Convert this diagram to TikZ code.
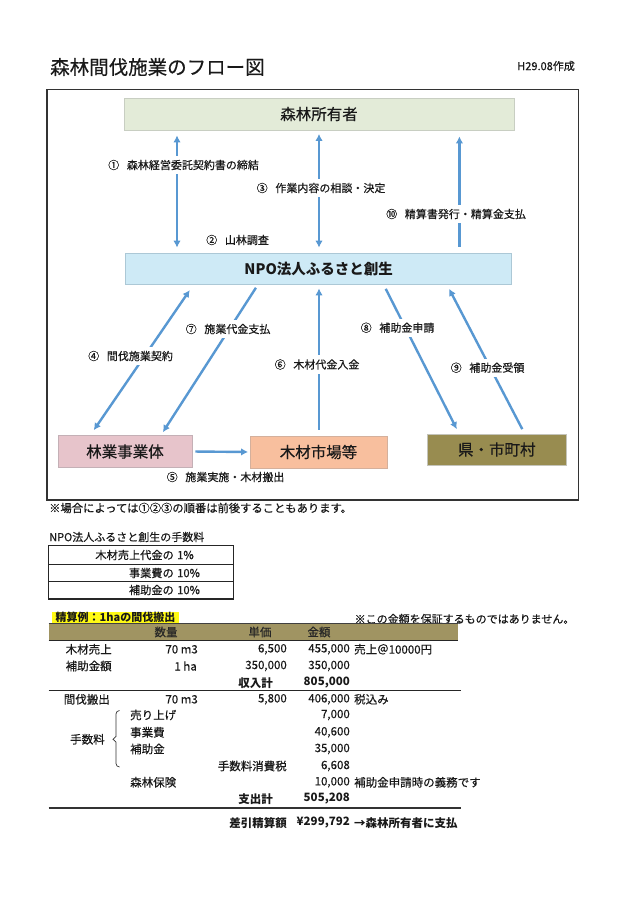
\documentclass[tikz,border=0pt]{standalone}
\usepackage{fontspec}
\setmainfont{Noto Sans CJK JP}[UprightFeatures={FakeBold=0.4}]
\usetikzlibrary{arrows.meta}
\definecolor{arrowblue}{RGB}{88,152,210}
\definecolor{txt}{RGB}{25,25,25}
\definecolor{ownerfill}{RGB}{227,235,216}
\definecolor{ownerline}{RGB}{200,206,194}
\definecolor{npofill}{RGB}{206,234,246}
\definecolor{npoline}{RGB}{172,200,214}
\definecolor{ringyofill}{RGB}{231,196,203}
\definecolor{ringyoline}{RGB}{196,176,182}
\definecolor{mokuzaifill}{RGB}{248,191,158}
\definecolor{mokuzailine}{RGB}{212,176,156}
\definecolor{kenfill}{RGB}{152,140,80}
\definecolor{kenline}{RGB}{196,196,186}
\definecolor{headolive}{RGB}{160,148,98}
\definecolor{hlyellow}{RGB}{255,250,20}
\begin{document}
\begin{tikzpicture}[x=1pt,y=-1pt,
  >={Latex[length=7pt,width=7.5pt]},
  lbl/.style={anchor=west,inner sep=0pt,font=\fontsize{11}{13}\selectfont,text=txt},
  gaplbl/.style={lbl,fill=white,inner ysep=4pt,inner xsep=1pt},
  flowbox/.style={draw,line width=0.8pt,inner sep=0pt,font=\fontsize{15.5}{18}\selectfont,text=txt},
  arr/.style={draw=arrowblue,line width=2.4pt},
  tt/.style={inner sep=0pt,font=\fontsize{11.5}{13}\selectfont,text=txt},
  tr/.style={tt,anchor=east},
  tl/.style={tt,anchor=west},
  fee/.style={inner sep=0pt,font=\fontsize{11.2}{13}\selectfont,text=txt}
]
\fill[white] (0,0) rectangle (640,905);
\useasboundingbox (0,0) rectangle (640,905);

% title
\node[anchor=west,inner sep=0pt,font=\fontsize{19.5}{22}\selectfont,text=txt] (title) at (50,67) {森林間伐施業のフロー図};
\node[anchor=east,inner sep=0pt,font=\fontsize{11}{13}\selectfont,text=txt] (date) at (575,66) {H29.08作成};

% frame
\draw[line width=1.3pt,draw=black!80] (47,89.5) rectangle (578.5,500);

% boxes
\node[flowbox,draw=ownerline,fill=ownerfill,minimum width=390pt,minimum height=32pt] (owner) at (319,114) {森林所有者};
\node[flowbox,draw=npoline,fill=npofill,minimum width=386pt,minimum height=31pt,font=\fontsize{14.5}{17}\selectfont\bfseries] (npo) at (318.7,268.5) {NPO法人ふるさと創生};
\node[flowbox,draw=ringyoline,fill=ringyofill,minimum width=134pt,minimum height=32pt] (ringyo) at (125,451.5) {林業事業体};
\node[flowbox,draw=mokuzailine,fill=mokuzaifill,minimum width=137pt,minimum height=32pt] (mokuzai) at (318.5,452) {木材市場等};
\node[flowbox,draw=kenline,fill=kenfill,minimum width=138.5pt,minimum height=31pt] (ken) at (496.8,449.5) {県・市町村};

% x positions of connectors
\coordinate (xa) at (177,0);
\coordinate (xb) at (319,0);
\coordinate (xc) at (459.4,0);
\coordinate (x4t) at (193.7,0);
\coordinate (x4b) at (90.4,0);
\coordinate (x7t) at (258.1,0);
\coordinate (x7b) at (161,0);
\coordinate (x8t) at (383.5,0);
\coordinate (x8b) at (459,0);
\coordinate (x9b) at (524.6,0);
\coordinate (x9t) at (446.8,0);

% arrows
\draw[arr,<->,shorten <=5pt,shorten >=5pt] (owner.south -| xa) -- (npo.north -| xa);
\draw[arr,<->,shorten <=3.5pt,shorten >=5pt] (owner.south -| xb) -- (npo.north -| xb);
\draw[arr,<-,shorten <=6pt,shorten >=6pt] (owner.south -| xc) -- (npo.north -| xc);
\draw[arr,<->,shorten <=7pt,shorten >=6pt] (npo.south -| x4t) -- (ringyo.north -| x4b);
\draw[arr,->,shorten <=4pt,shorten >=3.5pt] (npo.south -| x7t) -- (ringyo.north -| x7b);
\draw[arr,<-,shorten <=4pt,shorten >=6pt] (npo.south -| xb) -- (mokuzai.north -| xb);
\draw[arr,->,shorten <=5pt,shorten >=5pt] (npo.south -| x8t) -- (ken.north -| x8b);
\draw[arr,<-,shorten <=5pt,shorten >=5pt] (npo.south -| x9t) -- (ken.north -| x9b);
\draw[arr,->,shorten <=3pt,shorten >=1.5pt] (ringyo.east) -- (mokuzai.west);

% connector labels
\node[gaplbl] (l1) at (107,165) {①\hspace{0.7em}森林経営委託契約書の締結};
\node[lbl] (l2) at (206,240) {②\hspace{0.7em}山林調査};
\node[gaplbl] (l3) at (255.5,188) {③\hspace{0.7em}作業内容の相談・決定};
\node[gaplbl] (l10) at (385,214) {⑩\hspace{0.7em}精算書発行・精算金支払};
\node[gaplbl] (l4) at (87,356) {④\hspace{0.7em}間伐施業契約};
\node[gaplbl] (l7) at (184.5,329) {⑦\hspace{0.7em}施業代金支払};
\node[gaplbl] (l6) at (273.5,364.5) {⑥\hspace{0.7em}木材代金入金};
\node[gaplbl] (l8) at (359.5,327.7) {⑧\hspace{0.7em}補助金申請};
\node[gaplbl] (l9) at (449.5,367.7) {⑨\hspace{0.7em}補助金受領};
\node[lbl] (l5) at (166.5,477) {⑤\hspace{0.7em}施業実施・木材搬出};

% note
\node[anchor=west,inner sep=0pt,font=\fontsize{11.3}{13}\selectfont,text=txt] (note) at (49,508) {※場合によっては①②③の順番は前後することもあります。};

% fee table
\node[anchor=west,inner sep=0pt,font=\fontsize{11}{13}\selectfont,text=txt] (feetitle) at (49,537) {NPO法人ふるさと創生の手数料};
\draw[line width=1.2pt,draw=black!85] (48.3,545.5) rectangle (233.5,599);
\draw[line width=1.1pt,draw=black!85] (48.3,564.5) -- (233.5,564.5) (48.3,581.5) -- (233.5,581.5);
\node[fee,anchor=east] (f1a) at (174,555) {木材売上代金の};
\node[fee,anchor=west] (f1b) at (177,555) {1\%};
\node[fee,anchor=east] (f2a) at (174,573) {事業費の};
\node[fee,anchor=west] (f2b) at (177,573) {10\%};
\node[fee,anchor=east] (f3a) at (174,590) {補助金の};
\node[fee,anchor=west] (f3b) at (177,590) {10\%};

% calculation example
\node[anchor=center,inner sep=0pt,fill=hlyellow,minimum width=127pt,minimum height=11.5pt,font=\fontsize{11}{12}\selectfont\bfseries,text=txt] (calctitle) at (115.5,617.5) {精算例：1haの間伐搬出};
\node[anchor=west,inner sep=0pt,font=\fontsize{11}{13}\selectfont,text=txt] (disclaimer) at (354.5,619) {※この金額を保証するものではありません。};
\fill[headolive] (48.7,623.3) rectangle (458,640.5);
\draw[line width=0.9pt,draw=black!75] (48.7,623.3) -- (458,623.3);
\draw[line width=1.6pt,draw=black!85] (48.7,640.5) -- (458,640.5);
\node[tt,text=black!85] (h1) at (166,632) {数量};
\node[tt,text=black!85] (h2) at (260,632) {単価};
\node[tt,text=black!85] (h3) at (319,632) {金額};

\node[tl] (r1a) at (65.5,649.3) {木材売上};
\node[tr] (r1b) at (198,649.3) {70 m3};
\node[tr] (r1c) at (287,649.3) {6,500};
\node[tr] (r1d) at (350,649.3) {455,000};
\node[tl] (r1e) at (354,649.3) {売上＠10000円};

\node[tl] (r2a) at (65.5,666) {補助金額};
\node[tr] (r2b) at (197,666) {1 ha};
\node[tr] (r2c) at (287,666) {350,000};
\node[tr] (r2d) at (350,666) {350,000};

\node[tr,font=\fontsize{11.5}{13}\selectfont\bfseries] (r3a) at (273,682.7) {収入計};
\node[tr,font=\fontsize{11.5}{13}\selectfont\bfseries] (r3d) at (350,682.7) {805,000};
\draw[line width=1pt,draw=black!85] (48.7,690) -- (461,690);

\node[tl] (r4a) at (63.6,699.3) {間伐搬出};
\node[tr] (r4b) at (198,699.3) {70 m3};
\node[tr] (r4c) at (287,699.3) {5,800};
\node[tr] (r4d) at (350,699.3) {406,000};
\node[tl] (r4e) at (354,699.3) {税込み};

\node[tl] (fa) at (70,739.3) {手数料};
\draw[line width=0.7pt,draw=black!80] (119.5,710.5) to[out=180,in=90] (116,714) -- (116,736.5) -- (113,739.3) -- (116,742) -- (116,763.5) to[out=-90,in=180] (119.5,767);
\node[tl] (r5a) at (130,715) {売り上げ};
\node[tr] (r5d) at (350,715) {7,000};
\node[tl] (r6a) at (130,732.3) {事業費};
\node[tr] (r6d) at (350,732.3) {40,600};
\node[tl] (r7a) at (130,749) {補助金};
\node[tr] (r7d) at (350,749) {35,000};
\node[tr] (r8c) at (287,766) {手数料消費税};
\node[tr] (r8d) at (350,766) {6,608};
\node[tl] (r9a) at (130,782.3) {森林保険};
\node[tr] (r9d) at (350,782.3) {10,000};
\node[tl] (r9e) at (354,782.3) {補助金申請時の義務です};

\node[tr,font=\fontsize{11.5}{13}\selectfont\bfseries] (r10a) at (273,799) {支出計};
\node[tr,font=\fontsize{11.5}{13}\selectfont\bfseries] (r10d) at (350,799) {505,208};
\draw[line width=1.6pt,draw=black!80] (48.7,807.7) -- (461,807.7);

\node[tr,font=\fontsize{11.5}{13}\selectfont\bfseries] (r11c) at (287,822.7) {差引精算額};
\node[tr,font=\fontsize{11.5}{13}\selectfont\bfseries] (r11d) at (350,822.7) {¥299,792};
\node[tl,font=\fontsize{11.5}{13}\selectfont\bfseries] (r11e) at (354,822.7) {→森林所有者に支払};
\end{tikzpicture}
\end{document}
